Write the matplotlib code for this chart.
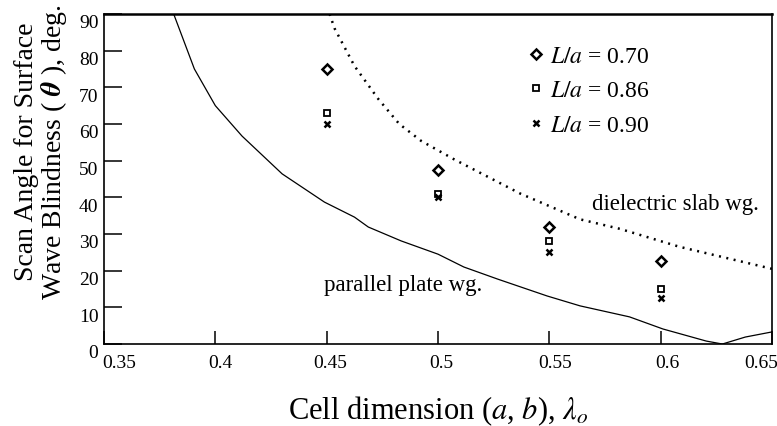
import matplotlib
matplotlib.use("Agg")
import matplotlib.pyplot as plt
from matplotlib.lines import Line2D
from matplotlib.transforms import ScaledTranslation

# --- data ------------------------------------------------------------------
cell_dim = [0.45, 0.50, 0.55, 0.60]
angle_la070 = [75, 47.5, 32, 22.5]
angle_la086 = [63, 41, 28, 15]
angle_la090 = [60, 40, 25, 12.5]

# parallel plate waveguide curve (solid)
pp_x = [0.3813, 0.3906, 0.400, 0.412, 0.430, 0.449, 0.4625, 0.4687, 0.4835,
        0.500, 0.5116, 0.5268, 0.549, 0.5638, 0.586, 0.601, 0.6205, 0.6277,
        0.638, 0.650]
pp_y = [90, 75, 65, 56.7, 46.4, 38.7, 34.6, 31.9, 28.1,
        24.5, 21.0, 17.7, 13.1, 10.4, 7.4, 4.1, 0.8, 0.0,
        1.9, 3.3]

# dielectric slab waveguide curve (dotted)
ds_x = [0.4513, 0.4536, 0.4625, 0.4732, 0.4826, 0.4924, 0.5071, 0.537,
        0.5638, 0.5817, 0.6085, 0.650]
ds_y = [90, 86, 75.8, 66.8, 60, 55.4, 50.4, 41,
        34, 31.4, 26.5, 20.5]

x_ticks = [0.35, 0.4, 0.45, 0.5, 0.55, 0.6, 0.65]
x_ticklabels = ["0.35", "0.4", "0.45", "0.5", "0.55", "0.6", "0.65"]
y_ticks = [0, 10, 20, 30, 40, 50, 60, 70, 80, 90]

plt.rcParams["font.family"] = ["Liberation Serif", "DejaVu Serif"]
plt.rcParams["mathtext.fontset"] = "stix"

fig = plt.figure(figsize=(7.77, 4.27), dpi=100)
ax = fig.add_axes([0.1338, 0.192, 0.8598, 0.773])

ax.plot(pp_x, pp_y, color="black", lw=0.9)
ax.plot(ds_x, ds_y, color="black", lw=1.8, linestyle=(0, (0.8, 2.2)))

mk = dict(linestyle="none", color="black", markerfacecolor="none")
ax.plot(cell_dim, angle_la070, marker="D", ms=5.5, mew=1.8, **mk)
ax.plot(cell_dim, angle_la086, marker="s", ms=4.5, mew=1.3, **mk)
ax.plot(cell_dim, angle_la090, marker="x", ms=5, mew=1.8, **mk)

ax.set_xlim(0.35, 0.65)
ax.set_ylim(0, 90)

ax.set_xticks(x_ticks)
ax.set_xticklabels(x_ticklabels)
ax.set_yticks(y_ticks)
ax.tick_params(axis="y", direction="in", length=13, width=1.1, labelsize=14, pad=4)
ax.tick_params(axis="x", direction="in", length=9.5, width=1.1, labelsize=14, pad=7)

# labels sit a bit off their ticks in the original
for lab in ax.get_yticklabels():
    lab.set_transform(lab.get_transform() + ScaledTranslation(0, -5 / 72, fig.dpi_scale_trans))
x_shift = [15, 5, 4, 3, 6, 7, -11]
for lab, dx in zip(ax.get_xticklabels(), x_shift):
    lab.set_transform(lab.get_transform() + ScaledTranslation(dx / 100, 0, fig.dpi_scale_trans))

for side in ["left", "bottom", "right"]:
    ax.spines[side].set_linewidth(1.2)
ax.spines["top"].set_linewidth(1.8)

ax.set_xlabel(r"Cell dimension ($a$, $b$), $\lambda_o$", fontsize=22)
ax.xaxis.set_label_coords(0.5, -0.15)
ax.set_ylabel("Scan Angle for Surface\n" r"Wave Blindness ( $\boldsymbol{\theta}$ ), deg.",
              fontsize=20, va="center", linespacing=1.0)
ax.yaxis.set_label_coords(-0.094, 0.585)

ax.text(0.4487, 16.1, "parallel plate wg.", fontsize=16.5, va="center", ha="left")
ax.text(0.5692, 38.2, "dielectric slab wg.", fontsize=16.5, va="center", ha="left")

handles = [
    Line2D([], [], marker="D", ms=5.5, mew=1.8, **mk),
    Line2D([], [], marker="s", ms=4.5, mew=1.3, **mk),
    Line2D([], [], marker="x", ms=5, mew=1.8, **mk),
]
labels = [r"$L/a$ = 0.70", r"$L/a$ = 0.86", r"$L/a$ = 0.90"]
ax.legend(handles, labels, loc="upper left", bbox_to_anchor=(0.636, 0.905),
          frameon=False, fontsize=17, numpoints=1, handlelength=0.6,
          handletextpad=0.3, borderpad=0, borderaxespad=0, labelspacing=0.55)

fig.savefig("out.png", dpi=100)
